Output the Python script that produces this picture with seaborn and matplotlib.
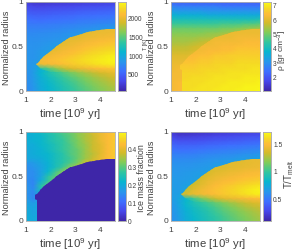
import matplotlib
matplotlib.use("Agg")
import matplotlib.pyplot as plt
import numpy as np
import seaborn as sns
from matplotlib.colors import LinearSegmentedColormap
from matplotlib.path import Path
from matplotlib.transforms import Affine2D

# columns are time, rows go from the surface (1) down to the centre (0)
time_gyr = [1.0, 1.3, 1.6, 1.9, 2.2, 2.5, 2.8, 3.1, 3.4, 3.7, 4.0, 4.3, 4.6]
radius = [1.0, .95, .9, .85, .8, .75, .7, .65, .6, .55, .5, .45, .4, .35, .3, .25, .2, .15, .1, .05, 0.0]

# front of the molten region
front_time = [1.5, 1.7, 2.0, 2.25, 2.5, 2.75, 3.0, 3.25, 3.5, 3.75, 4.0, 4.3, 4.6]
front_radius = [.32, .38, .455, .51, .55, .59, .62, .64, .66, .675, .685, .695, .70]
# lower edge of the hot wedge in the temperature panels
wedge_time = [4.6, 2.0, 1.6, 1.42]
wedge_radius = [.20, .21, .25, .30]
# outline of the core in the density and ice panels, from the bottom right corner
core_time = [4.6, 1.45, 1.45, 1.36, 1.36, 1.45]
core_radius = [0.0, 0.0, .24, .25, .29, .30]

temperature = [
    [260, 190, 180, 190, 200, 210, 220, 230, 240, 250, 260, 270, 280],
    [340, 290, 280, 290, 300, 310, 320, 340, 350, 360, 370, 380, 390],
    [430, 390, 390, 400, 410, 420, 430, 450, 460, 470, 480, 490, 500],
    [510, 490, 480, 490, 500, 510, 520, 540, 550, 560, 570, 580, 590],
    [590, 570, 560, 570, 580, 590, 600, 620, 630, 640, 650, 660, 670],
    [650, 640, 640, 650, 660, 670, 680, 700, 710, 720, 730, 740, 760],
    [700, 700, 700, 710, 720, 730, 750, 770, 780, 800, 820, 850, 880],
    [740, 740, 750, 760, 770, 780, 800, 820, 850, 880, 900, 920, 940],
    [770, 770, 780, 790, 800, 820, 840, 870, 900, 930, 950, 970, 990],
    [790, 790, 800, 820, 830, 860, 890, 920, 950, 980, 1000, 1020, 1040],
    [800, 800, 820, 840, 870, 900, 930, 960, 990, 1020, 1040, 1060, 1080],
    [810, 810, 840, 870, 900, 930, 960, 990, 1020, 1050, 1070, 1090, 1110],
    [820, 810, 860, 890, 920, 950, 980, 1010, 1040, 1070, 1090, 1110, 1130],
    [830, 820, 880, 910, 940, 970, 1000, 1030, 1060, 1090, 1110, 1130, 1150],
    [820, 840, 900, 930, 960, 990, 1020, 1050, 1080, 1110, 1130, 1150, 1170],
    [800, 860, 1050, 1160, 1260, 1360, 1450, 1530, 1610, 1680, 1750, 1810, 1860],
    [780, 870, 1080, 1230, 1340, 1450, 1550, 1640, 1720, 1790, 1850, 1900, 1950],
    [770, 850, 1040, 1160, 1260, 1360, 1450, 1530, 1610, 1680, 1750, 1810, 1860],
    [760, 840, 1020, 1120, 1210, 1300, 1390, 1470, 1550, 1620, 1690, 1750, 1800],
    [750, 830, 1000, 1090, 1170, 1260, 1340, 1420, 1500, 1570, 1640, 1700, 1750],
    [740, 820, 980, 1070, 1150, 1230, 1310, 1390, 1460, 1530, 1600, 1660, 1710],
]
# rows from radius 0.75 down to 0.2, used inside the molten region
temperature_hot = [
    [1950, 1950, 1950, 1950, 1950, 1950, 1950, 1950, 1950, 1950, 1950, 1950, 1960],
    [1950, 1950, 1950, 1950, 1950, 1950, 1950, 1950, 1950, 1950, 1960, 1970, 1980],
    [1950, 1950, 1950, 1950, 1950, 1950, 1950, 1950, 1950, 1960, 1970, 1980, 1990],
    [1950, 1950, 1950, 1950, 1950, 1950, 1950, 1940, 1970, 1990, 2010, 2030, 2040],
    [1950, 1950, 1950, 1950, 1950, 1930, 1960, 1990, 2020, 2050, 2080, 2100, 2120],
    [1950, 1950, 1950, 1950, 1930, 1970, 2000, 2040, 2080, 2110, 2140, 2170, 2190],
    [1950, 1950, 1950, 1950, 1970, 2020, 2060, 2100, 2140, 2180, 2210, 2240, 2260],
    [1950, 1950, 1950, 2000, 2040, 2080, 2120, 2170, 2210, 2250, 2280, 2310, 2340],
    [2020, 2020, 2020, 2060, 2100, 2140, 2180, 2220, 2260, 2290, 2320, 2350, 2370],
    [2000, 2000, 2000, 2030, 2060, 2100, 2140, 2190, 2220, 2260, 2290, 2320, 2340],
    [1300, 1300, 1300, 1450, 1620, 1770, 1880, 1950, 2000, 2040, 2080, 2110, 2130],
    [1100, 1100, 1100, 1230, 1340, 1450, 1550, 1640, 1720, 1790, 1850, 1900, 1950],
]

density = [
    [2.2, 2.1, 2.1, 2.1, 2.1, 2.1, 2.1, 2.1, 2.1, 2.1, 2.1, 2.1, 2.1],
    [2.7, 2.6, 2.6, 2.6, 2.6, 2.6, 2.6, 2.5, 2.5, 2.5, 2.5, 2.5, 2.5],
    [3.2, 3.1, 3.1, 3.1, 3.1, 3.0, 3.0, 3.0, 3.0, 3.0, 3.0, 3.0, 3.0],
    [3.7, 3.6, 3.6, 3.6, 3.6, 3.5, 3.5, 3.5, 3.5, 3.5, 3.5, 3.5, 3.5],
    [4.1, 4.1, 4.1, 4.1, 4.1, 4.1, 4.1, 4.1, 4.1, 4.1, 4.1, 4.1, 4.2],
    [4.5, 4.5, 4.5, 4.5, 4.5, 4.5, 4.5, 4.6, 4.6, 4.6, 4.7, 4.7, 4.8],
    [4.9, 4.9, 4.9, 4.9, 4.9, 4.9, 4.9, 5.0, 5.0, 5.1, 5.2, 5.3, 5.4],
    [5.1, 5.1, 5.1, 5.1, 5.1, 5.2, 5.2, 5.3, 5.4, 5.5, 5.5, 5.5, 5.5],
    [5.3, 5.3, 5.3, 5.3, 5.4, 5.4, 5.5, 5.6, 5.6, 5.6, 5.6, 5.6, 5.6],
    [5.4, 5.4, 5.4, 5.5, 5.6, 5.7, 5.7, 5.7, 5.7, 5.7, 5.7, 5.7, 5.7],
    [5.6, 5.6, 5.6, 5.7, 5.8, 5.8, 5.8, 5.8, 5.8, 5.8, 5.8, 5.8, 5.8],
    [5.7, 5.7, 5.7, 5.8, 5.9, 5.9, 5.9, 5.9, 5.9, 5.9, 5.9, 5.9, 5.9],
    [5.9, 5.9, 5.9, 6.0, 6.0, 6.0, 6.0, 6.0, 6.0, 6.0, 6.0, 6.0, 6.0],
    [6.0, 6.0, 6.0, 6.0, 6.0, 6.0, 6.0, 6.0, 6.0, 6.0, 6.0, 6.0, 6.0],
    [6.1, 6.1, 6.1, 6.1, 6.1, 6.1, 6.1, 6.1, 6.1, 6.1, 6.1, 6.1, 6.1],
    [6.1, 6.2, 6.2, 6.2, 6.2, 6.2, 6.2, 6.2, 6.2, 6.2, 6.2, 6.2, 6.2],
    [6.2, 6.2, 6.2, 6.2, 6.2, 6.2, 6.2, 6.2, 6.2, 6.2, 6.2, 6.2, 6.2],
    [6.2, 6.2, 6.2, 6.2, 6.2, 6.2, 6.2, 6.2, 6.2, 6.2, 6.2, 6.2, 6.2],
    [6.2, 6.3, 6.3, 6.3, 6.3, 6.3, 6.3, 6.3, 6.3, 6.3, 6.3, 6.3, 6.3],
    [6.2, 6.3, 6.3, 6.3, 6.3, 6.3, 6.3, 6.3, 6.3, 6.3, 6.3, 6.3, 6.3],
    [6.2, 6.3, 6.3, 6.3, 6.3, 6.3, 6.3, 6.3, 6.3, 6.3, 6.3, 6.3, 6.3],
]
# rows from radius 0.75 down to 0, used inside the core
density_core = [
    [6.1, 6.1, 6.1, 6.1, 6.1, 6.1, 6.1, 6.1, 6.1, 6.1, 6.1, 6.1, 6.1],
    [6.1, 6.1, 6.1, 6.1, 6.1, 6.1, 6.1, 6.1, 6.1, 6.1, 6.1, 6.1, 6.1],
    [6.1, 6.1, 6.1, 6.1, 6.1, 6.1, 6.1, 6.1, 6.1, 6.1, 6.1, 6.1, 6.1],
    [6.1, 6.1, 6.1, 6.1, 6.1, 6.1, 6.1, 6.1, 6.1, 6.2, 6.2, 6.2, 6.2],
    [6.1, 6.1, 6.1, 6.1, 6.1, 6.1, 6.2, 6.2, 6.2, 6.2, 6.3, 6.3, 6.3],
    [6.1, 6.1, 6.1, 6.1, 6.2, 6.2, 6.2, 6.3, 6.3, 6.4, 6.4, 6.4, 6.4],
    [6.1, 6.1, 6.1, 6.2, 6.2, 6.3, 6.3, 6.4, 6.4, 6.5, 6.5, 6.5, 6.5],
    [6.3, 6.3, 6.3, 6.3, 6.4, 6.4, 6.5, 6.5, 6.6, 6.6, 6.6, 6.6, 6.6],
    [6.4, 6.4, 6.4, 6.4, 6.5, 6.5, 6.6, 6.6, 6.6, 6.7, 6.7, 6.7, 6.7],
    [6.5, 6.5, 6.5, 6.5, 6.6, 6.6, 6.7, 6.7, 6.7, 6.8, 6.8, 6.8, 6.8],
    [6.6, 6.6, 6.6, 6.6, 6.7, 6.7, 6.7, 6.8, 6.8, 6.8, 6.8, 6.9, 6.9],
    [6.7, 6.7, 6.7, 6.7, 6.7, 6.8, 6.8, 6.8, 6.9, 6.9, 6.9, 6.9, 6.9],
    [6.7, 6.7, 6.7, 6.8, 6.8, 6.8, 6.9, 6.9, 6.9, 6.9, 7.0, 7.0, 7.0],
    [6.8, 6.8, 6.8, 6.8, 6.8, 6.9, 6.9, 6.9, 7.0, 7.0, 7.0, 7.0, 7.1],
    [6.8, 6.8, 6.8, 6.8, 6.9, 6.9, 6.9, 7.0, 7.0, 7.0, 7.1, 7.1, 7.1],
    [6.8, 6.8, 6.8, 6.9, 6.9, 6.9, 7.0, 7.0, 7.0, 7.1, 7.1, 7.1, 7.2],
]

ice_fraction = [
    [.20, .21, .23, .25, .27, .29, .31, .33, .35, .38, .40, .42, .44],
    [.20, .21, .22, .24, .26, .28, .30, .33, .35, .37, .40, .42, .44],
    [.20, .21, .22, .24, .26, .27, .30, .32, .35, .37, .40, .42, .44],
    [.20, .20, .22, .23, .25, .27, .29, .32, .34, .37, .39, .42, .44],
    [.19, .20, .21, .23, .25, .27, .29, .31, .34, .37, .39, .42, .44],
    [.19, .20, .21, .22, .24, .26, .29, .31, .34, .36, .39, .42, .44],
    [.19, .19, .20, .22, .24, .26, .28, .31, .34, .37, .40, .42, .44],
    [.16, .17, .19, .21, .24, .26, .29, .32, .37, .38, .40, .42, .44],
    [.15, .16, .18, .21, .24, .28, .33, .36, .38, .40, .42, .44, .44],
    [.15, .15, .18, .22, .28, .33, .36, .38, .40, .42, .44, .44, .44],
    [.15, .15, .18, .26, .30, .34, .38, .40, .42, .44, .44, .44, .44],
    [.15, .14, .20, .27, .32, .36, .40, .42, .44, .44, .44, .44, .44],
    [.16, .14, .25, .30, .34, .38, .42, .44, .44, .44, .44, .44, .44],
    [.16, .15, .24, .32, .36, .40, .44, .44, .44, .44, .44, .44, .44],
    [.16, .14, .22, .32, .36, .40, .44, .44, .44, .44, .44, .44, .44],
    [.17, .14, .20, .32, .36, .40, .44, .44, .44, .44, .44, .44, .44],
    [.18, .17, .20, .32, .36, .40, .44, .44, .44, .44, .44, .44, .44],
    [.19, .18, .20, .32, .36, .40, .44, .44, .44, .44, .44, .44, .44],
    [.20, .18, .20, .32, .36, .40, .44, .44, .44, .44, .44, .44, .44],
    [.20, .19, .20, .32, .36, .40, .44, .44, .44, .44, .44, .44, .44],
    [.20, .19, .20, .32, .36, .40, .44, .44, .44, .44, .44, .44, .44],
]
# no ice is left inside the core
ice_core = [[0.0] * 13] * 16

melt_ratio = [
    [.22, .16, .16, .17, .18, .19, .20, .21, .22, .23, .24, .25, .26],
    [.28, .23, .23, .24, .25, .26, .27, .28, .29, .30, .31, .32, .33],
    [.35, .32, .32, .32, .33, .34, .35, .36, .37, .38, .39, .40, .41],
    [.42, .40, .40, .40, .41, .42, .43, .44, .45, .46, .47, .48, .49],
    [.48, .46, .46, .47, .48, .49, .50, .51, .52, .53, .54, .55, .56],
    [.53, .52, .52, .53, .54, .55, .56, .57, .58, .59, .60, .61, .63],
    [.57, .57, .57, .58, .59, .60, .61, .62, .63, .65, .66, .68, .70],
    [.60, .60, .60, .61, .62, .63, .64, .66, .67, .69, .70, .72, .74],
    [.62, .62, .62, .63, .64, .65, .67, .69, .71, .73, .74, .76, .78],
    [.63, .63, .64, .65, .66, .68, .70, .72, .74, .76, .78, .80, .82],
    [.64, .64, .65, .66, .68, .70, .72, .74, .76, .78, .80, .82, .84],
    [.65, .65, .66, .68, .70, .72, .74, .76, .78, .80, .82, .84, .86],
    [.66, .65, .68, .70, .72, .74, .76, .78, .80, .82, .84, .86, .88],
    [.67, .66, .70, .72, .74, .76, .78, .80, .82, .84, .86, .88, .90],
    [.66, .68, .72, .74, .76, .78, .80, .82, .84, .86, .88, .90, .92],
    [.65, .70, .80, .90, .98, 1.05, 1.10, 1.15, 1.20, 1.25, 1.30, 1.33, 1.36],
    [.63, .70, .82, .90, .97, 1.03, 1.09, 1.15, 1.21, 1.26, 1.30, 1.34, 1.37],
    [.62, .69, .79, .86, .92, .98, 1.03, 1.09, 1.14, 1.19, 1.24, 1.28, 1.31],
    [.61, .68, .77, .84, .89, .94, 1.00, 1.05, 1.10, 1.15, 1.19, 1.23, 1.27],
    [.60, .67, .76, .82, .87, .92, .97, 1.02, 1.07, 1.12, 1.16, 1.20, 1.24],
    [.60, .66, .75, .81, .86, .91, .95, 1.00, 1.05, 1.09, 1.14, 1.18, 1.22],
]
# rows from radius 0.75 down to 0.2, used inside the molten region
melt_ratio_hot = [
    [1.40, 1.40, 1.40, 1.40, 1.40, 1.40, 1.40, 1.40, 1.40, 1.40, 1.40, 1.40, 1.40],
    [1.38, 1.38, 1.38, 1.38, 1.38, 1.38, 1.38, 1.38, 1.38, 1.38, 1.39, 1.40, 1.40],
    [1.38, 1.38, 1.38, 1.38, 1.38, 1.38, 1.38, 1.38, 1.38, 1.38, 1.39, 1.40, 1.41],
    [1.36, 1.36, 1.36, 1.36, 1.36, 1.36, 1.36, 1.36, 1.38, 1.39, 1.40, 1.41, 1.42],
    [1.34, 1.34, 1.34, 1.34, 1.34, 1.34, 1.37, 1.39, 1.41, 1.42, 1.44, 1.45, 1.46],
    [1.33, 1.33, 1.33, 1.33, 1.33, 1.37, 1.40, 1.42, 1.44, 1.46, 1.48, 1.49, 1.50],
    [1.29, 1.29, 1.29, 1.29, 1.35, 1.40, 1.43, 1.46, 1.48, 1.50, 1.52, 1.54, 1.55],
    [1.30, 1.30, 1.30, 1.33, 1.38, 1.43, 1.47, 1.50, 1.53, 1.56, 1.58, 1.60, 1.62],
    [1.28, 1.28, 1.28, 1.37, 1.42, 1.46, 1.50, 1.53, 1.56, 1.59, 1.62, 1.65, 1.67],
    [1.35, 1.35, 1.35, 1.40, 1.43, 1.46, 1.49, 1.52, 1.55, 1.58, 1.61, 1.64, 1.66],
    [.88, .88, .88, 1.00, 1.12, 1.22, 1.31, 1.37, 1.40, 1.43, 1.45, 1.47, 1.48],
    [.82, .82, .82, .90, .97, 1.03, 1.09, 1.15, 1.21, 1.26, 1.30, 1.34, 1.37],
]

parula_stops = [(0.0, "#3e26a8"), (0.11, "#4747eb"), (0.22, "#3e6fff"), (0.33, "#2797eb"),
                (0.44, "#08b5d0"), (0.55, "#31c69f"), (0.66, "#81cc59"), (0.77, "#d4bb2a"),
                (0.86, "#fdbb38"), (0.93, "#f5d825"), (1.0, "#f9fb15")]
parula = LinearSegmentedColormap.from_list("parula", parula_stops)

W, H = 299, 251
TEXT = "#404040"
sns.set_style("white")
plt.rcParams["font.family"] = ["Liberation Sans", "DejaVu Sans"]
plt.rcParams["mathtext.default"] = "regular"


def px_axes(fig, x0, y0, x1, y1):
    return fig.add_axes([x0 / W, 1 - y1 / H, (x1 - x0) / W, (y1 - y0) / H])


def to_index(times, radii):
    x = np.interp(times, time_gyr, np.arange(len(time_gyr)))
    y = np.interp(radii, radius[::-1], np.arange(len(radius))[::-1])
    return np.column_stack([x, y])


def panel(fig, values, inner, edge, box, cbar_box, limits, cticks, clabels, clabel, clabel_xy, clabel_size):
    vmin, vmax = limits
    ax = px_axes(fig, *box)
    cax = px_axes(fig, *cbar_box)
    sns.heatmap(np.array(values), ax=ax, cbar_ax=cax, cmap=parula, vmin=vmin, vmax=vmax,
                shading="gouraud")
    sns.heatmap(np.array(inner), ax=ax, cbar=False, cmap=parula, vmin=vmin, vmax=vmax,
                shading="gouraud")
    ax.set_xlim(0, len(time_gyr) - 1)
    ax.set_ylim(len(radius) - 1, 0)

    mesh = ax.collections[-1]
    mesh.set_transform(Affine2D().translate(0, radius.index(.75)) + ax.transData)
    outline = to_index(front_time + edge[0], front_radius + edge[1])
    mesh.set_clip_path(Path(np.vstack([outline, outline[:1]]), closed=True), ax.transData)

    ax.set_xticks(np.interp([1, 2, 3, 4], time_gyr, np.arange(len(time_gyr))))
    ax.set_xticklabels(["1", "2", "3", "4"], rotation=0, fontsize=6, color=TEXT)
    ax.set_yticks([0, 10, 20])
    ax.set_yticklabels(["1", "0.5", "0"], rotation=0, fontsize=6, color=TEXT)
    ax.tick_params(axis="y", length=0, pad=2)
    ax.tick_params(axis="x", length=0, pad=3.5)
    ax.set_xlabel("time [10$^{9}$ yr]", fontsize=8.2, color=TEXT, labelpad=1.5)
    ax.set_ylabel("")
    fig.text((box[0] - 19) / W, 1 - (box[1] + box[3]) / 2 / H, "Normalized radius", rotation=90,
             ha="center", va="center", fontsize=6.6, color=TEXT)
    for spine in ax.spines.values():
        spine.set_visible(True)
        spine.set_color("#b0b0b0")
        spine.set_linewidth(0.6)

    cax.set_yticks(cticks)
    cax.set_yticklabels(clabels, fontsize=4.8, color=TEXT)
    cax.tick_params(length=0, pad=1.5)
    for spine in cax.spines.values():
        spine.set_visible(True)
        spine.set_color("#b0b0b0")
        spine.set_linewidth(0.6)
    fig.text(clabel_xy[0] / W, 1 - clabel_xy[1] / H, clabel, rotation=90, ha="center",
             va="center", fontsize=clabel_size, color=TEXT)


wedge = (wedge_time, wedge_radius)
core = (core_time, core_radius)

fig = plt.figure(figsize=(W / 100, H / 100), dpi=100)
panel(fig, temperature, temperature_hot, wedge, (26, 3, 115, 92), (118, 3, 126, 92), (50, 2400),
      [500, 1000, 1500, 2000], ["500", "1000", "1500", "2000"], "T [K]", (146, 44), 4)
panel(fig, density, density_core, core, (171, 3, 260, 92), (263, 3, 271, 92), (1.0, 7.2),
      [2, 3, 4, 5, 6, 7], ["2", "3", "4", "5", "6", "7"], r"$\rho$ [gr cm$^{-3}$]", (282, 50), 6)
panel(fig, ice_fraction, ice_core, core, (26, 133, 115, 222), (118, 133, 126, 222), (0, 0.49),
      [0, .1, .2, .3, .4], ["0", "0.1", "0.2", "0.3", "0.4"], "Ice mass fraction", (141, 178), 6.4)
panel(fig, melt_ratio, melt_ratio_hot, wedge, (171, 133, 260, 222), (263, 133, 271, 222), (0.1, 1.7),
      [.5, 1, 1.5], ["0.5", "1", "1.5"], "T/T$_{melt}$", (289, 174), 7)

fig.savefig("out.png", dpi=100)
plt.close(fig)
